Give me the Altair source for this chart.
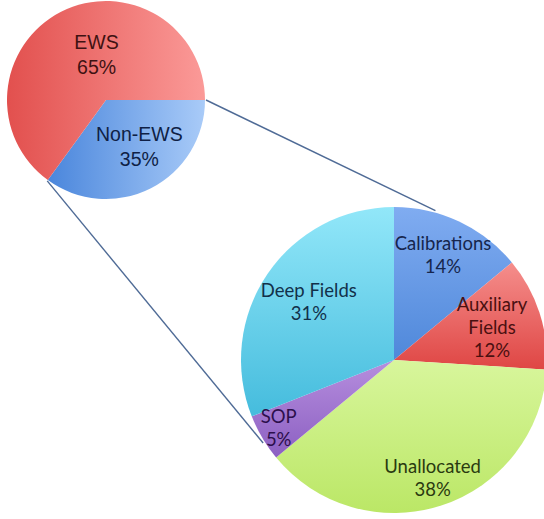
import math

import altair as alt
import numpy as np
import pandas as pd

# Overview pie: survey time split
overview_names = ["Non-EWS", "EWS"]
overview_values = [35, 65]

# Breakdown of the non-EWS share
detail_names = ["Calibrations", "Auxiliary\nFields", "Unallocated", "SOP", "Deep Fields"]
detail_values = [14, 12, 38, 5, 31]


def pie_frame(names, values, pie):
    v = np.array(values, dtype=float)
    end = np.cumsum(v)
    start = end - v
    return pd.DataFrame({
        "pie": pie,
        "key": [f"{pie}{i}" for i in range(len(names))],
        "name": names,
        "value": values,
        "start": start,
        "end": end,
        "mid": (start + end) / 2,
    })


df = pd.concat([pie_frame(overview_names, overview_values, "o"),
                pie_frame(detail_names, detail_values, "d")], ignore_index=True)

# geometry of the two pies (centre x, centre y, radius, start angle in degrees)
SMALL = dict(cx=106, cy=100, r=99, start=90, font="Liberation Sans", size=19.5, lh=25)
BIG = dict(cx=394, cy=360, r=153, start=0, font="Lato", size=18.5, lh=23)


def theta_scale(start_deg):
    a0 = math.radians(start_deg)
    return alt.Scale(domain=[0, 100], range=[a0, a0 + 2 * math.pi])


def gradient(c0, c1, horizontal):
    return alt.Gradient(
        gradient="linear",
        x1=0, y1=0,
        x2=1 if horizontal else 0,
        y2=0 if horizontal else 1,
        stops=[alt.GradientStop(color=c0, offset=0),
               alt.GradientStop(color=c1, offset=1)],
    )


# per-slice styling: (key, pie geometry, gradient, label colour, label radius, dx, dy, lines)
slices = [
    ("o0", SMALL, gradient("#4a86dc", "#a9cbf8", True), "#0f1f45", 58, 7, -4, 2),
    ("o1", SMALL, gradient("#e2504e", "#fb9a98", True), "#3f1212", 45, 11, -4, 2),
    ("d0", BIG, gradient("#80acf1", "#4f88da", False), "#16264d", 115, 0, 0, 2),
    ("d1", BIG, gradient("#f58e8c", "#df4644", False), "#4a1010", 103, 0, 0, 3),
    ("d2", BIG, gradient("#d8f69c", "#bbe766", False), "#2a3a10", 125, 0, 0, 2),
    ("d3", BIG, gradient("#b68ede", "#8c60c2", False), "#2c0f4c", 134, 0, 0, 2),
    ("d4", BIG, gradient("#92e7f9", "#45bcdd", False), "#12304a", 103, 0, 0, 2),
]

base = alt.Chart(df)
arcs, texts, rules = [], [], []


def polar(g, deg, r):
    a = math.radians(deg)
    return g["cx"] + r * math.sin(a), g["cy"] - r * math.cos(a)


# connector lines from the Non-EWS slice edges to the detail pie
for a_small, a_big in [(90, 15.5), (216, 237.6)]:
    x1, y1 = polar(SMALL, a_small, SMALL["r"] + 1)
    x2, y2 = polar(BIG, a_big, BIG["r"] + 2)
    rules.append(
        base.transform_filter(alt.datum.key == "o0")
        .mark_rule(color="#4f6b96", strokeWidth=1.4)
        .encode(x=alt.value(x1), y=alt.value(y1), x2=alt.value(x2), y2=alt.value(y2))
    )

for key, g, fill, tcol, lr, dx, dy, lines in slices:
    sc = theta_scale(g["start"])
    part = base.transform_filter(alt.datum.key == key)
    arcs.append(
        part.mark_arc(fill=fill, radius=g["r"], strokeWidth=0)
        .encode(
            theta=alt.Theta("start:Q", scale=sc),
            theta2="end:Q",
            x=alt.value(g["cx"]),
            y=alt.value(g["cy"]),
        )
    )
    # centre the multi-line block vertically on its anchor point
    dy_block = dy - (lines - 1) * g["lh"] / 2
    texts.append(
        part.transform_calculate(label="datum.name + '\\n' + datum.value + '%'")
        .mark_text(
            radius=lr,
            dx=dx,
            dy=dy_block,
            align="center",
            baseline="middle",
            lineBreak="\n",
            lineHeight=g["lh"],
            font=g["font"],
            fontSize=g["size"],
            color=tcol,
        )
        .encode(
            theta=alt.Theta("mid:Q", scale=sc),
            text="label:N",
            x=alt.value(g["cx"]),
            y=alt.value(g["cy"]),
        )
    )

chart = (
    alt.layer(*rules, *arcs, *texts)
    .resolve_scale(theta="independent")
    .properties(width=544, height=519, padding=0,
                autosize=alt.AutoSizeParams(type="none"),
                background="white")
    .configure_view(stroke=None)
)

chart.save("out.html", embed_options={"renderer": "svg", "actions": False})
